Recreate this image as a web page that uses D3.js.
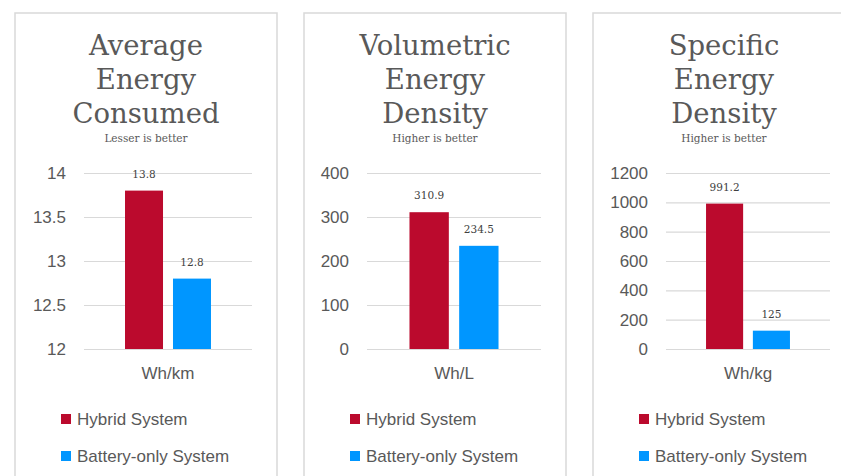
<!DOCTYPE html>
<html>
<head>
<meta charset="utf-8">
<script src="https://cdn.jsdelivr.net/npm/d3@7"></script>
<style>
  body { margin: 0; background: #fff; }
  svg { display: block; }
</style>
</head>
<body>
<svg id="chart" width="841" height="476"></svg>
<script>
// Chart data, one entry per panel
const titleLines = [
  ["Average", "Energy", "Consumed"],
  ["Volumetric", "Energy", "Density"],
  ["Specific", "Energy", "Density"],
];
const subtitles = ["Lesser is better", "Higher is better", "Higher is better"];
const units = ["Wh/km", "Wh/L", "Wh/kg"];
const seriesNames = ["Hybrid System", "Battery-only System"];
const hybridValues = [13.8, 310.9, 991.2];
const batteryValues = [12.8, 234.5, 125];
const yDomains = [[12, 14], [0, 400], [0, 1200]];
const yTicks = [
  [12, 12.5, 13, 13.5, 14],
  [0, 100, 200, 300, 400],
  [0, 200, 400, 600, 800, 1000, 1200],
];

const colors = ["#bb0a2d", "#0096ff"];
const textColor = "#595959";
const gridColor = "#d9d9d9";

const svg = d3.select("#chart");

// panel frames and inner plot layout
const panelLeft = [15, 304, 593];
const panelWidth = 262;
const plotLeft = [69, 63, 73]; // relative to panel left, depends on tick label width
const plotRight = 237;
const plotTop = 173;
const plotBottom = 349;

titleLines.forEach((lines, i) => {
  const g = svg.append("g").attr("transform", `translate(${panelLeft[i]},0)`);

  g.append("rect")
    .attr("x", 0)
    .attr("y", 13)
    .attr("width", panelWidth)
    .attr("height", 500)
    .attr("fill", "none")
    .attr("stroke", gridColor)
    .attr("stroke-width", 1.5);

  // title
  g.append("g")
    .selectAll("text")
    .data(lines)
    .join("text")
    .attr("x", panelWidth / 2)
    .attr("y", (d, j) => 55 + j * 34)
    .attr("text-anchor", "middle")
    .attr("font-family", "DejaVu Serif")
    .attr("font-size", 27.5)
    .attr("fill", textColor)
    .text((d) => d);

  g.append("text")
    .attr("x", panelWidth / 2)
    .attr("y", 142)
    .attr("text-anchor", "middle")
    .attr("font-family", "DejaVu Serif")
    .attr("font-size", 10.5)
    .attr("fill", textColor)
    .text(subtitles[i]);

  // scales
  const y = d3.scaleLinear().domain(yDomains[i]).range([plotBottom, plotTop]);
  const x0 = d3
    .scaleBand()
    .domain([units[i]])
    .range([plotLeft[i], plotRight])
    .padding(0.323);
  const x1 = d3
    .scaleBand()
    .domain(seriesNames)
    .range([0, x0.bandwidth()])
    .paddingInner(0.208);

  // gridlines
  g.append("g")
    .attr("transform", `translate(${plotLeft[i]},0)`)
    .call(
      d3.axisLeft(y)
        .tickValues(yTicks[i])
        .tickSize(-(plotRight - plotLeft[i]))
        .tickFormat("")
    )
    .call((a) => a.select(".domain").remove())
    .call((a) => a.selectAll("line").attr("stroke", gridColor).attr("stroke-width", 1.2));

  // y tick labels
  g.append("g")
    .attr("transform", `translate(${plotLeft[i]},0)`)
    .call(
      d3.axisLeft(y)
        .tickValues(yTicks[i])
        .tickSize(0)
        .tickPadding(18)
        .tickFormat((d) => d3.format("")(d))
    )
    .call((a) => a.select(".domain").remove())
    .call((a) =>
      a.selectAll("text")
        .attr("font-family", "Liberation Sans")
        .attr("font-size", 17)
        .attr("fill", textColor)
    );

  // bars
  const rows = [
    { name: seriesNames[0], value: hybridValues[i] },
    { name: seriesNames[1], value: batteryValues[i] },
  ];
  const bars = g
    .append("g")
    .attr("transform", `translate(${x0(units[i])},0)`);

  bars
    .selectAll("rect")
    .data(rows)
    .join("rect")
    .attr("x", (d) => x1(d.name))
    .attr("y", (d) => y(d.value))
    .attr("width", x1.bandwidth())
    .attr("height", (d) => y(yDomains[i][0]) - y(d.value))
    .attr("fill", (d, j) => colors[j]);

  bars
    .selectAll("text")
    .data(rows)
    .join("text")
    .attr("x", (d) => x1(d.name) + x1.bandwidth() / 2)
    .attr("y", (d) => y(d.value) - 13)
    .attr("text-anchor", "middle")
    .attr("font-family", "DejaVu Serif")
    .attr("font-size", 10.5)
    .attr("fill", "#404040")
    .text((d) => d.value);

  // category label
  g.append("text")
    .attr("x", x0(units[i]) + x0.bandwidth() / 2)
    .attr("y", 379)
    .attr("text-anchor", "middle")
    .attr("font-family", "Liberation Sans")
    .attr("font-size", 17)
    .attr("fill", textColor)
    .text(units[i]);

  // legend
  const legend = g
    .selectAll(".legend")
    .data(seriesNames)
    .join("g")
    .attr("transform", (d, j) => `translate(46,${419 + j * 37})`);

  legend
    .append("rect")
    .attr("x", 0)
    .attr("y", -5)
    .attr("width", 10)
    .attr("height", 10)
    .attr("fill", (d, j) => colors[j]);

  legend
    .append("text")
    .attr("x", 16)
    .attr("y", 6)
    .attr("font-family", "Liberation Sans")
    .attr("font-size", 17)
    .attr("fill", textColor)
    .text((d) => d);
});
</script>
</body>
</html>
